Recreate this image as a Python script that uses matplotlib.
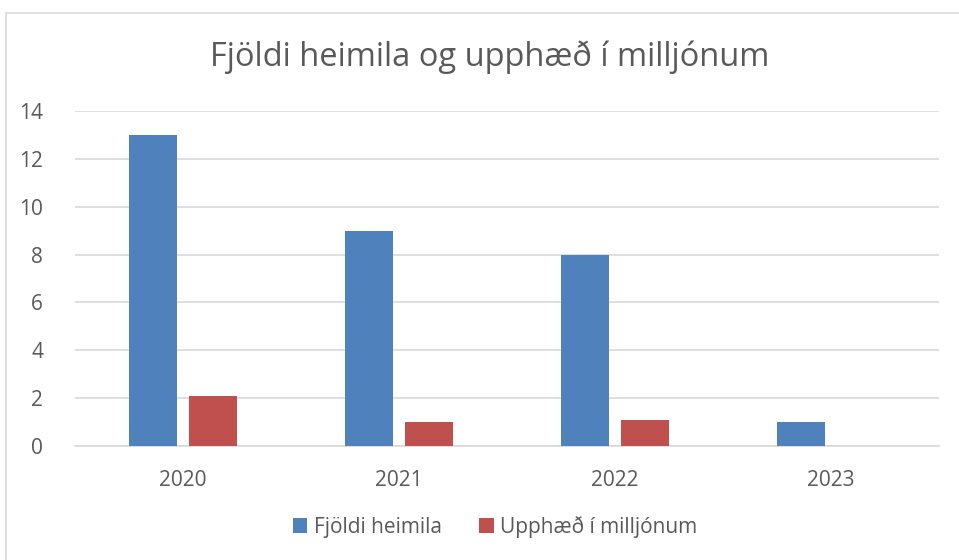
import numpy as np
import matplotlib
matplotlib.use("Agg")
import matplotlib.pyplot as plt
from matplotlib.patches import Rectangle

# Data
years = ["2020", "2021", "2022", "2023"]
fjoldi_heimila = [13, 9, 8, 1]
upphaed_milljonum = [2.1, 1.0, 1.1, 0]

plt.rcParams["font.family"] = ["Open Sans", "DejaVu Sans"]
text_col = "#595959"

fig = plt.figure(figsize=(9.59, 5.60), dpi=100)
ax = fig.add_axes([75 / 959, 1 - 446 / 560, 864 / 959, 335 / 560])

x = np.arange(len(years))
w = 0.222
gap = 0.06
ax.bar(x - (w + gap) / 2, fjoldi_heimila, w, color="#4F81BD", label="Fjöldi heimila", zorder=3)
ax.bar(x + (w + gap) / 2, upphaed_milljonum, w, color="#C0504D", label="Upphæð í milljónum", zorder=3)

ax.set_xlim(-0.5, len(years) - 0.5)
ax.set_ylim(0, 14)
ax.set_yticks(range(0, 15, 2))
ax.set_xticks(x)
ax.set_xticklabels(years)
ax.tick_params(axis="both", length=0, labelsize=15, colors=text_col)
ax.tick_params(axis="y", pad=23)
ax.tick_params(axis="x", pad=17)
ax.grid(axis="y", color="#D9D9D9", linewidth=1.2, zorder=0)
for s in ["top", "right", "left"]:
    ax.spines[s].set_visible(False)
ax.spines["bottom"].set_color("#D9D9D9")
ax.spines["bottom"].set_linewidth(1.2)

fig.suptitle("Fjöldi heimila og upphæð í milljónum", x=490 / 959, y=1 - 57 / 560, va="center",
             fontsize=23.5, color=text_col)

ax.legend(loc="center", bbox_to_anchor=(495 / 959, 1 - 527 / 560), bbox_transform=fig.transFigure,
          ncol=2, frameon=False, fontsize=15, labelcolor=text_col,
          handlelength=0.7, handleheight=0.7, handletextpad=0.3, columnspacing=1.8)

# chart frame (only the left and top edges are visible in the image)
fig.add_artist(Rectangle((5.5 / 959, -0.1), 2, 1.1 - 12.5 / 560,
                         transform=fig.transFigure, fill=False, edgecolor="#D9D9D9", linewidth=1.2))

fig.savefig("out.png", dpi=100)
